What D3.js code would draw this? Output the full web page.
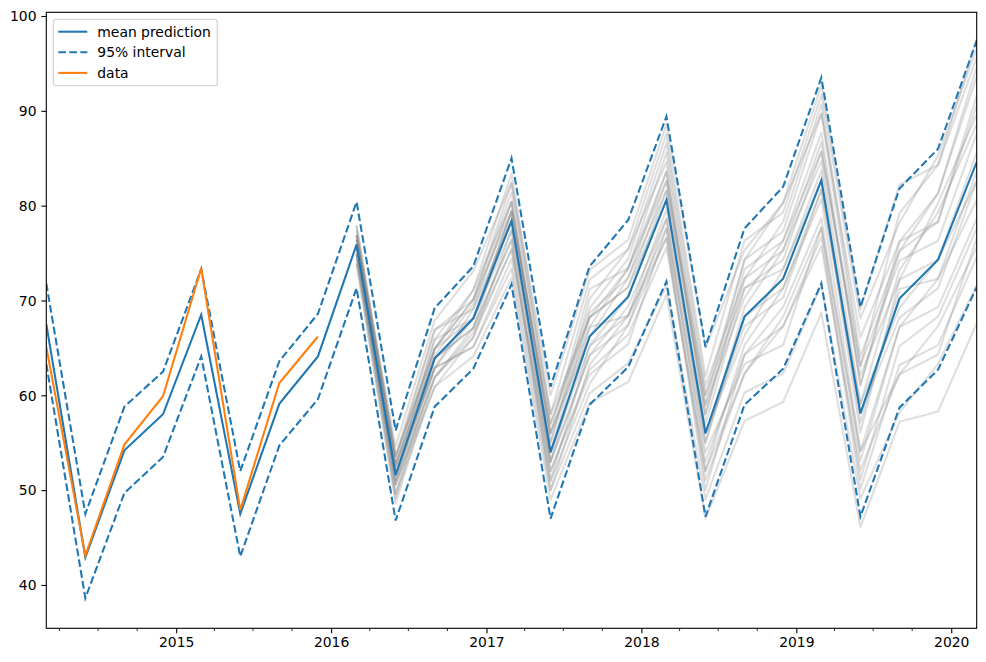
<!DOCTYPE html>
<html>
<head>
<meta charset="utf-8">
<script src="https://cdn.jsdelivr.net/npm/d3@7"></script>
<style>
  body { margin: 0; background: #fff; }
  svg { display: block; font-family: 'DejaVu Sans', sans-serif; }
</style>
</head>
<body>
<svg id="chart" width="986" height="662"></svg>
<script>
// quarterly periods, first of Mar / Jun / Sep / Dec, 2014-03 .. 2020-03
const periods = [
  '2014-03', '2014-06', '2014-09', '2014-12',
  '2015-03', '2015-06', '2015-09', '2015-12',
  '2016-03', '2016-06', '2016-09', '2016-12',
  '2017-03', '2017-06', '2017-09', '2017-12',
  '2018-03', '2018-06', '2018-09', '2018-12',
  '2019-03', '2019-06', '2019-09', '2019-12',
  '2020-03'
];

const meanPrediction = [
  67.5, 42.9, 54.2, 58.0, 68.5, 47.5, 59.1, 64.1,
  75.9, 51.6, 63.9, 68.1, 78.4, 54.0, 66.2, 70.4,
  80.6, 56.0, 68.3, 72.3, 82.7, 58.1, 70.2, 74.3, 84.6
];
const upper95 = [
  71.8, 47.5, 58.8, 62.5, 73.3, 52.0, 63.6, 68.6,
  80.4, 56.3, 69.2, 73.6, 85.0, 60.9, 73.6, 78.5,
  89.4, 65.1, 77.6, 82.0, 93.5, 69.3, 81.8, 86.0, 97.4
];
const lower95 = [
  63.3, 38.6, 49.7, 53.5, 64.1, 43.0, 54.7, 59.6,
  71.3, 46.8, 58.8, 62.8, 71.7, 47.0, 59.0, 63.0,
  72.0, 47.2, 59.0, 62.8, 71.8, 47.2, 58.7, 62.7, 71.4
];
// observed data, 2014-03 .. 2015-12
const observed = [65.1, 43.1, 54.8, 59.9, 73.4, 47.9, 61.3, 66.2];

// forecast sample paths, 2016-03 .. 2020-03 (start at period index 8)
const sampleStart = 8;
const samplePaths = [
  [76.4, 52.6, 64.2, 69.6, 80.4, 55.0, 68.7, 72.4, 83.6, 58.0, 72.3, 75.3, 86.7, 61.1, 75.2, 78.3, 90.6],
  [74.9, 51.1, 61.9, 66.6, 75.4, 52.0, 62.7, 66.4, 75.6, 52.0, 62.3, 67.3, 75.7, 52.1, 62.2, 67.3, 75.6],
  [77.9, 53.1, 66.9, 70.1, 81.4, 58.0, 68.2, 73.4, 85.6, 60.0, 74.3, 77.3, 89.7, 66.1, 76.2, 81.3, 93.6],
  [73.9, 49.1, 62.9, 65.1, 74.4, 51.0, 61.2, 67.4, 76.6, 50.0, 64.3, 67.3, 76.7, 50.1, 63.2, 65.3, 74.6],
  [75.9, 52.1, 62.9, 69.1, 78.4, 53.0, 67.2, 68.4, 79.6, 56.0, 66.3, 73.3, 82.7, 56.1, 72.2, 74.3, 85.6],
  [76.9, 51.6, 65.9, 71.1, 80.4, 55.0, 70.2, 75.4, 84.6, 59.0, 74.3, 80.3, 89.7, 63.1, 79.2, 84.3, 95.6],
  [74.9, 49.6, 63.9, 67.1, 76.4, 51.0, 65.2, 68.4, 77.6, 52.0, 65.3, 71.3, 80.7, 54.1, 67.2, 72.3, 80.6],
  [76.4, 53.6, 64.9, 68.1, 79.4, 57.0, 68.2, 71.4, 82.6, 60.0, 71.3, 74.3, 85.7, 63.1, 74.2, 76.3, 87.6],
  [75.4, 50.6, 60.9, 66.1, 77.4, 52.0, 62.2, 65.4, 77.6, 54.0, 63.3, 65.3, 77.7, 54.1, 62.2, 64.3, 76.6],
  [77.4, 52.6, 64.9, 70.1, 82.4, 57.0, 69.2, 74.4, 86.6, 61.0, 72.3, 78.3, 90.7, 64.1, 75.2, 81.3, 94.6],
  [74.4, 50.6, 61.9, 66.1, 75.4, 53.0, 64.2, 69.4, 78.6, 55.0, 68.3, 71.3, 81.7, 59.1, 69.2, 74.3, 82.6],
  [75.9, 50.6, 64.9, 70.1, 79.4, 54.0, 68.2, 71.4, 80.6, 55.0, 69.3, 75.3, 84.7, 59.1, 73.2, 79.3, 88.6],
  [75.4, 51.6, 62.9, 65.1, 73.4, 50.0, 60.2, 63.4, 71.6, 49.0, 60.3, 62.3, 71.7, 49.1, 58.2, 63.3, 71.6],
  [76.9, 53.6, 66.9, 69.1, 80.4, 56.0, 71.2, 73.4, 83.6, 57.0, 71.3, 73.3, 83.7, 57.1, 71.2, 72.3, 83.6],
  [75.9, 52.6, 63.9, 67.1, 79.4, 56.0, 66.2, 72.4, 81.6, 59.0, 70.3, 76.3, 87.7, 61.1, 76.2, 78.3, 91.6],
  [73.9, 48.6, 61.9, 67.1, 76.4, 50.0, 63.2, 68.4, 76.6, 51.0, 62.3, 68.3, 77.7, 51.1, 65.2, 68.3, 77.6],
  [77.9, 53.6, 64.9, 71.1, 83.4, 58.0, 72.2, 75.4, 87.6, 62.0, 76.3, 79.3, 91.7, 68.1, 78.2, 85.3, 96.6],
  [76.4, 51.1, 63.9, 68.1, 77.4, 54.0, 65.2, 70.4, 81.6, 56.0, 67.3, 70.3, 81.7, 58.1, 68.2, 71.3, 82.6],
  [74.9, 51.6, 62.9, 68.1, 78.4, 53.0, 64.2, 67.4, 78.6, 53.0, 64.3, 69.3, 78.7, 53.1, 67.2, 69.3, 78.6],
  [76.9, 52.6, 65.9, 68.1, 79.4, 56.0, 67.2, 73.4, 82.6, 58.0, 73.3, 76.3, 85.7, 62.1, 72.2, 80.3, 89.6],
  [74.9, 49.6, 60.9, 64.1, 72.4, 49.0, 59.2, 61.4, 70.6, 47.0, 57.3, 59.3, 68.7, 46.1, 57.2, 58.3, 67.6],
  [76.9, 54.6, 67.9, 73.1, 82.4, 60.0, 73.2, 76.4, 88.6, 65.0, 75.3, 80.3, 92.7, 69.1, 82.2, 84.3, 97.6]
];

const yTicks = [40, 50, 60, 70, 80, 90, 100];
const yearTicks = ['2015', '2016', '2017', '2018', '2019', '2020'];

const COLORS = {
  mean: '#1f77b4',
  data: '#ff7f0e',
  sample: '#808080'
};

const parseMonth = d3.timeParse('%Y-%m');
const parseYear = d3.timeParse('%Y');
const dates = periods.map(parseMonth);

// plot box in pixels
const box = { left: 46.3, right: 976.7, top: 12.3, bottom: 628.3 };
const FONT = '13.9px';
const TICK = 4.9;
const LW = 2.08;          // 1.5pt line at 100 dpi
const DASH = '7.7,3.3';

const svg = d3.select('#chart');
svg.append('rect').attr('width', 986).attr('height', 662).attr('fill', '#fff');

const x = d3.scaleTime()
  .domain([dates[0], dates[dates.length - 1]])
  .range([box.left, box.right]);

const y = d3.scaleLinear()
  .domain([35.43, 100.39])
  .range([box.bottom, box.top]);

const lineOf = (startIndex) => d3.line()
  .x((v, i) => x(dates[startIndex + i]))
  .y(v => y(v));

svg.append('clipPath').attr('id', 'plot-clip')
  .append('rect')
  .attr('x', box.left).attr('y', box.top)
  .attr('width', box.right - box.left)
  .attr('height', box.bottom - box.top);

const plot = svg.append('g')
  .attr('clip-path', 'url(#plot-clip)');

// sample paths, light so they build up where they overlap
plot.append('g').attr('class', 'samples')
  .selectAll('path')
  .data(samplePaths)
  .join('path')
  .attr('d', p => lineOf(sampleStart)(p))
  .attr('fill', 'none')
  .attr('stroke', COLORS.sample)
  .attr('stroke-opacity', 0.26)
  .attr('stroke-width', LW)
  .attr('stroke-linejoin', 'round');

plot.append('path')
  .attr('d', lineOf(0)(meanPrediction))
  .attr('fill', 'none')
  .attr('stroke', COLORS.mean)
  .attr('stroke-width', LW);

[upper95, lower95].forEach(series => {
  plot.append('path')
    .attr('d', lineOf(0)(series))
    .attr('fill', 'none')
    .attr('stroke', COLORS.mean)
    .attr('stroke-width', LW)
    .attr('stroke-dasharray', DASH);
});

plot.append('path')
  .attr('d', lineOf(0)(observed))
  .attr('fill', 'none')
  .attr('stroke', COLORS.data)
  .attr('stroke-width', LW);

// axes
const yAxis = svg.append('g')
  .attr('transform', `translate(${box.left},0)`)
  .call(d3.axisLeft(y).tickValues(yTicks).tickSize(TICK).tickPadding(4.9));

const xAxis = svg.append('g')
  .attr('transform', `translate(0,${box.bottom})`)
  .call(d3.axisBottom(x)
    .tickValues(yearTicks.map(parseYear))
    .tickFormat(d3.timeFormat('%Y'))
    .tickSize(TICK).tickPadding(4.4));

// quarterly minor ticks (skip the year starts)
const minorTicks = d3.timeMonth.every(3).range(x.domain()[0], x.domain()[1])
  .filter(d => d.getMonth() !== 0);
svg.append('g').attr('class', 'minor-ticks')
  .selectAll('line')
  .data(minorTicks)
  .join('line')
  .attr('x1', d => x(d)).attr('x2', d => x(d))
  .attr('y1', box.bottom).attr('y2', box.bottom + 2.8)
  .attr('stroke', '#000')
  .attr('stroke-width', 0.8);

[yAxis, xAxis].forEach(axis => {
  axis.select('.domain').remove();
  axis.selectAll('.tick line').attr('stroke', '#000').attr('stroke-width', 1.1);
  axis.selectAll('.tick text')
    .attr('fill', '#000')
    .style('font-family', "'DejaVu Sans', sans-serif")
    .style('font-size', FONT);
});
yAxis.selectAll('.tick text').attr('dy', '0.34em');

// frame
svg.append('rect')
  .attr('x', box.left).attr('y', box.top)
  .attr('width', box.right - box.left)
  .attr('height', box.bottom - box.top)
  .attr('fill', 'none')
  .attr('stroke', '#000')
  .attr('stroke-width', 1.1);

// legend
const legendItems = [
  { label: 'mean prediction', color: COLORS.mean, dash: null },
  { label: '95% interval', color: COLORS.mean, dash: DASH },
  { label: 'data', color: COLORS.data, dash: null }
];

const legend = svg.append('g').attr('transform', 'translate(53.3,19.3)');
legend.append('rect')
  .attr('width', 164).attr('height', 66.5)
  .attr('rx', 2.8)
  .attr('fill', '#fff').attr('fill-opacity', 0.8)
  .attr('stroke', '#cccccc').attr('stroke-width', 1.1);

const rows = legend.selectAll('g.row')
  .data(legendItems)
  .join('g')
  .attr('class', 'row')
  .attr('transform', (d, i) => `translate(0,${12.4 + i * 20.6})`);

rows.append('line')
  .attr('x1', 5).attr('x2', 34)
  .attr('stroke', d => d.color)
  .attr('stroke-width', LW)
  .attr('stroke-dasharray', d => d.dash);

rows.append('text')
  .attr('x', 44)
  .attr('dy', '0.36em')
  .style('font-size', FONT)
  .attr('fill', '#000')
  .text(d => d.label);
</script>
</body>
</html>
